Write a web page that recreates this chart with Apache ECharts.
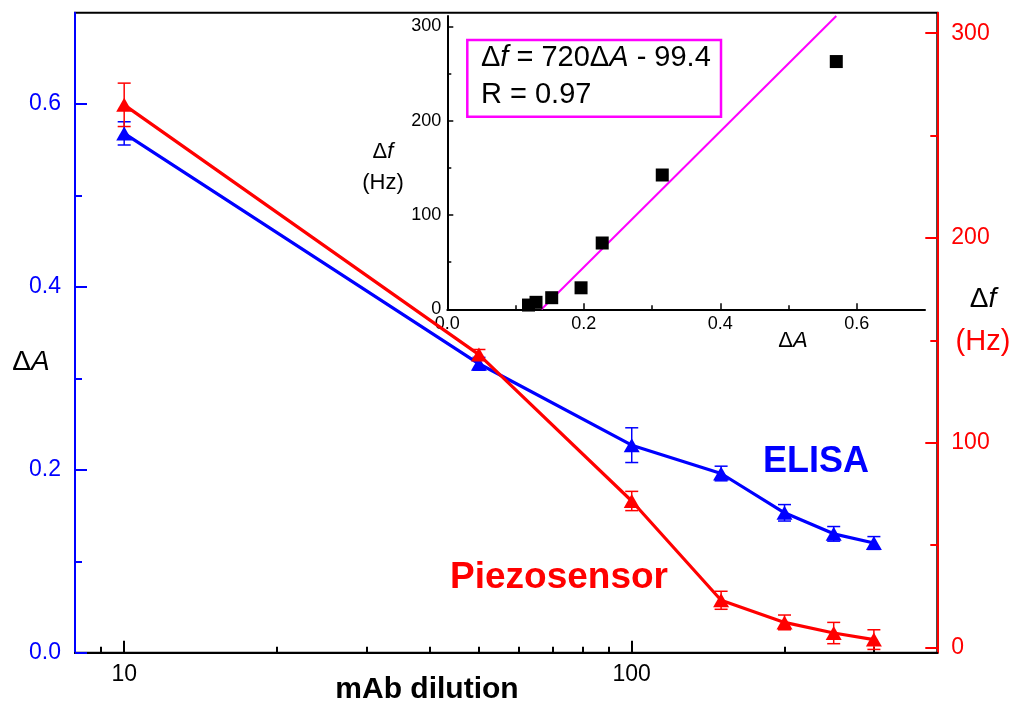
<!DOCTYPE html>
<html>
<head>
<meta charset="utf-8">
<script src="https://cdn.jsdelivr.net/npm/echarts@6/dist/echarts.min.js"></script>
<style>
html,body{margin:0;padding:0;background:#fff;}
#chart{width:1024px;height:712px;}
</style>
</head>
<body>
<div id="chart"></div>
<script>
// ---- data ----
const dilution = [10, 50, 100, 150, 200, 250, 300];
const elisa    = [0.568, 0.316, 0.227, 0.196, 0.153, 0.130, 0.120];
const elisaErr = [0.0127, 0.007, 0.019, 0.008, 0.009, 0.008, 0.007];
const piezo    = [265, 143, 71.5, 23, 12.2, 7, 3.8];
const piezoErr = [10.6, 2.5, 4.7, 4.4, 3.6, 5.2, 4.8];
const insetDA  = [0.119, 0.130, 0.153, 0.196, 0.227, 0.315, 0.570];
const insetDf  = [4.5, 7.4, 12.3, 22.8, 70.3, 142.4, 262.7];
const fitSlope = 720, fitIntercept = -99.4;
const xMajorTicks = [10, 100];
const xMinorTicks = [9, 20, 30, 40, 50, 60, 70, 80, 90, 200, 300];
const leftMajor = [0, 0.2, 0.4, 0.6];
const leftMinor = [0.1, 0.3, 0.5];
const rightMajor = [0, 100, 200, 300];
const rightMinor = [50, 150, 250];
const insetXMajor = [0, 0.2, 0.4, 0.6];
const insetXMinor = [0.1, 0.3, 0.5];
const insetYMajor = [0, 100, 200, 300];
const insetYMinor = [50, 150, 250];

const FONT = '"Liberation Sans", Arial, Helvetica, sans-serif';
const BLUE = '#0000ff', RED = '#ff0000', MAG = '#ff00ff';

const chart = echarts.init(document.getElementById('chart'), null, {renderer: 'canvas'});

function errSeries(name, xs, ys, es, color, yAxisIndex) {
  return {
    name: name, type: 'custom', xAxisIndex: 0, yAxisIndex: yAxisIndex, z: 1,
    data: xs.map((x, i) => [x, ys[i], es[i]]),
    renderItem: function (params, api) {
      const x = api.value(0), y = api.value(1), e = api.value(2);
      const t = api.coord([x, y + e]), b = api.coord([x, y - e]);
      const hw = 6.5;
      const st = {stroke: color, lineWidth: 1.5};
      return {type: 'group', children: [
        {type: 'line', shape: {x1: t[0], y1: t[1], x2: b[0], y2: b[1]}, style: st},
        {type: 'line', shape: {x1: t[0] - hw, y1: t[1], x2: t[0] + hw, y2: t[1]}, style: st},
        {type: 'line', shape: {x1: b[0] - hw, y1: b[1], x2: b[0] + hw, y2: b[1]}, style: st}
      ]};
    }
  };
}

const fitX0 = -fitIntercept / fitSlope;
const fitX1 = insetDA[insetDA.length - 1];
const fitLine = [[fitX0, fitSlope * fitX0 + fitIntercept], [fitX1, fitSlope * fitX1 + fitIntercept]];

const logAxisBase = {type: 'log', logBase: 10, min: 8, max: 400, gridIndex: 0, splitLine: {show: false}};

function rt(size, color) {
  return {
    n: {fontSize: size, fontFamily: FONT, color: color},
    i: {fontSize: size, fontFamily: FONT, fontStyle: 'italic', color: color}
  };
}

const option = {
  backgroundColor: '#fff',
  animation: false,
  textStyle: {fontFamily: FONT},
  grid: [
    {left: 75, right: 86.7, top: 12.7, bottom: 59.3, show: true, borderColor: '#000', borderWidth: 2, backgroundColor: 'transparent'},
    {left: 447.3, top: 16, width: 477.7, height: 293.3, show: false}
  ],
  xAxis: [
    Object.assign({}, logAxisBase, {
      position: 'bottom',
      axisLine: {show: true, lineStyle: {color: '#000', width: 2}},
      axisTick: {show: true, inside: true, length: 12, customValues: xMajorTicks, lineStyle: {color: '#000', width: 2}},
      axisLabel: {show: true, customValues: xMajorTicks, color: '#000', fontSize: 23, margin: 10, fontFamily: FONT, formatter: v => String(Math.round(v))},
      minorTick: {show: false}
    }),
    Object.assign({}, logAxisBase, {
      position: 'bottom',
      axisLine: {show: false},
      axisTick: {show: true, inside: true, length: 6, customValues: xMinorTicks, lineStyle: {color: '#000', width: 2}},
      axisLabel: {show: false}
    }),
    {type: 'value', gridIndex: 1, min: 0, max: 0.7, position: 'bottom', splitLine: {show: false},
      axisLine: {show: true, onZero: false, lineStyle: {color: '#000', width: 2}},
      axisTick: {show: true, inside: true, length: 6, customValues: insetXMajor, lineStyle: {color: '#000', width: 1.5}},
      axisLabel: {show: true, customValues: insetXMajor, color: '#000', fontSize: 18, margin: 6, fontFamily: FONT, formatter: v => v.toFixed(1)}
    },
    {type: 'value', gridIndex: 1, min: 0, max: 0.7, position: 'bottom', splitLine: {show: false},
      axisLine: {show: false},
      axisTick: {show: true, inside: true, length: 4, customValues: insetXMinor, lineStyle: {color: '#000', width: 1.5}},
      axisLabel: {show: false}
    }
  ],
  yAxis: [
    {type: 'value', gridIndex: 0, min: 0, max: 0.7, position: 'left', splitLine: {show: false},
      axisLine: {show: true, lineStyle: {color: BLUE, width: 2}},
      axisTick: {show: true, inside: true, length: 12, customValues: leftMajor, lineStyle: {color: BLUE, width: 2}},
      axisLabel: {show: true, customValues: leftMajor, color: BLUE, fontSize: 23, margin: 14, fontFamily: FONT, formatter: v => v.toFixed(1)}
    },
    {type: 'value', gridIndex: 0, min: 0, max: 0.7, position: 'left', splitLine: {show: false},
      axisLine: {show: false},
      axisTick: {show: true, inside: true, length: 7, customValues: leftMinor, lineStyle: {color: BLUE, width: 2}},
      axisLabel: {show: false}
    },
    {type: 'value', gridIndex: 0, min: -2.6, max: 310, position: 'right', splitLine: {show: false},
      axisLine: {show: true, onZero: false, lineStyle: {color: RED, width: 2}},
      axisTick: {show: true, inside: true, length: 12, customValues: rightMajor, lineStyle: {color: RED, width: 2}},
      axisLabel: {show: true, customValues: rightMajor, color: RED, fontSize: 23, margin: 14, fontFamily: FONT}
    },
    {type: 'value', gridIndex: 0, min: -2.6, max: 310, position: 'right', splitLine: {show: false},
      axisLine: {show: false},
      axisTick: {show: true, inside: true, length: 7, customValues: rightMinor, lineStyle: {color: RED, width: 2}},
      axisLabel: {show: false}
    },
    {type: 'value', gridIndex: 1, min: 0, max: 311, position: 'left', splitLine: {show: false},
      axisLine: {show: true, onZero: false, lineStyle: {color: '#000', width: 2}},
      axisTick: {show: true, inside: true, length: 6, customValues: insetYMajor, lineStyle: {color: '#000', width: 1.5}},
      axisLabel: {show: true, customValues: insetYMajor, color: '#000', fontSize: 18, margin: 6, fontFamily: FONT}
    },
    {type: 'value', gridIndex: 1, min: 0, max: 311, position: 'left', splitLine: {show: false},
      axisLine: {show: false},
      axisTick: {show: true, inside: true, length: 4, customValues: insetYMinor, lineStyle: {color: '#000', width: 1.5}},
      axisLabel: {show: false}
    }
  ],
  series: [
    errSeries('ELISA err', dilution, elisa, elisaErr, BLUE, 0),
    errSeries('Piezo err', dilution, piezo, piezoErr, RED, 2),
    {name: 'ELISA', type: 'line', xAxisIndex: 0, yAxisIndex: 0, z: 3,
      data: dilution.map((x, i) => [x, elisa[i]]),
      symbol: 'triangle', symbolSize: [16, 14],
      lineStyle: {color: BLUE, width: 3.2}, itemStyle: {color: BLUE, opacity: 1}},
    {name: 'Piezosensor', type: 'line', xAxisIndex: 0, yAxisIndex: 2, z: 3,
      data: dilution.map((x, i) => [x, piezo[i]]),
      symbol: 'triangle', symbolSize: [16, 14],
      lineStyle: {color: RED, width: 3.2}, itemStyle: {color: RED, opacity: 1}},
    {name: 'inset', type: 'scatter', xAxisIndex: 2, yAxisIndex: 4, z: 4,
      data: insetDA.map((x, i) => [x, insetDf[i]]),
      symbol: 'rect', symbolSize: 13, itemStyle: {color: '#000', opacity: 1}},
    {name: 'fit', type: 'line', xAxisIndex: 2, yAxisIndex: 4, z: 3,
      data: fitLine, symbol: 'none', clip: true,
      lineStyle: {color: MAG, width: 2}}
  ],
  graphic: [
    {type: 'rect', shape: {x: 467.3, y: 40, width: 253.7, height: 76.7}, style: {fill: '#fff', stroke: MAG, lineWidth: 2.5}, z: 10},
    {type: 'text', x: 481, y: 58, z: 11, style: {
      text: '{n|Δ}{i|f}{n| = 720Δ}{i|A}{n| - 99.4}', verticalAlign: 'middle', align: 'left',
      rich: rt(29, '#000')
    }},
    {type: 'text', x: 481, y: 95, z: 11, style: {text: 'R = 0.97', fontSize: 29, fontFamily: FONT, fill: '#000', verticalAlign: 'middle', align: 'left'}},
    {type: 'text', x: 383, y: 152, z: 11, style: {
      text: '{n|Δ}{i|f}', verticalAlign: 'middle', align: 'center', rich: rt(22, '#000')
    }},
    {type: 'text', x: 383, y: 183, z: 11, style: {text: '(Hz)', fontSize: 22, fontFamily: FONT, fill: '#000', verticalAlign: 'middle', align: 'center'}},
    {type: 'text', x: 793, y: 341, z: 11, style: {
      text: '{n|Δ}{i|A}', verticalAlign: 'middle', align: 'center', rich: rt(22, '#000')
    }},
    {type: 'text', x: 31, y: 362, z: 11, style: {
      text: '{n|Δ}{i|A}', verticalAlign: 'middle', align: 'center', rich: rt(28, BLUE)
    }},
    {type: 'text', x: 983, y: 299, z: 11, style: {
      text: '{n|Δ}{i|f}', verticalAlign: 'middle', align: 'center', rich: rt(28, RED)
    }},
    {type: 'text', x: 983, y: 342, z: 11, style: {text: '(Hz)', fontSize: 29, fontFamily: FONT, fill: RED, verticalAlign: 'middle', align: 'center'}},
    {type: 'text', x: 427, y: 690, z: 11, style: {text: 'mAb dilution', fontSize: 30, fontWeight: 'bold', fontFamily: FONT, fill: '#000', verticalAlign: 'middle', align: 'center'}},
    {type: 'text', x: 763, y: 462, z: 11, style: {text: 'ELISA', fontSize: 36, fontWeight: 'bold', fontFamily: FONT, fill: BLUE, verticalAlign: 'middle', align: 'left'}},
    {type: 'text', x: 450, y: 578, z: 11, style: {text: 'Piezosensor', fontSize: 37, fontWeight: 'bold', fontFamily: FONT, fill: RED, verticalAlign: 'middle', align: 'left'}}
  ]
};
chart.setOption(option);
</script>
</body>
</html>
